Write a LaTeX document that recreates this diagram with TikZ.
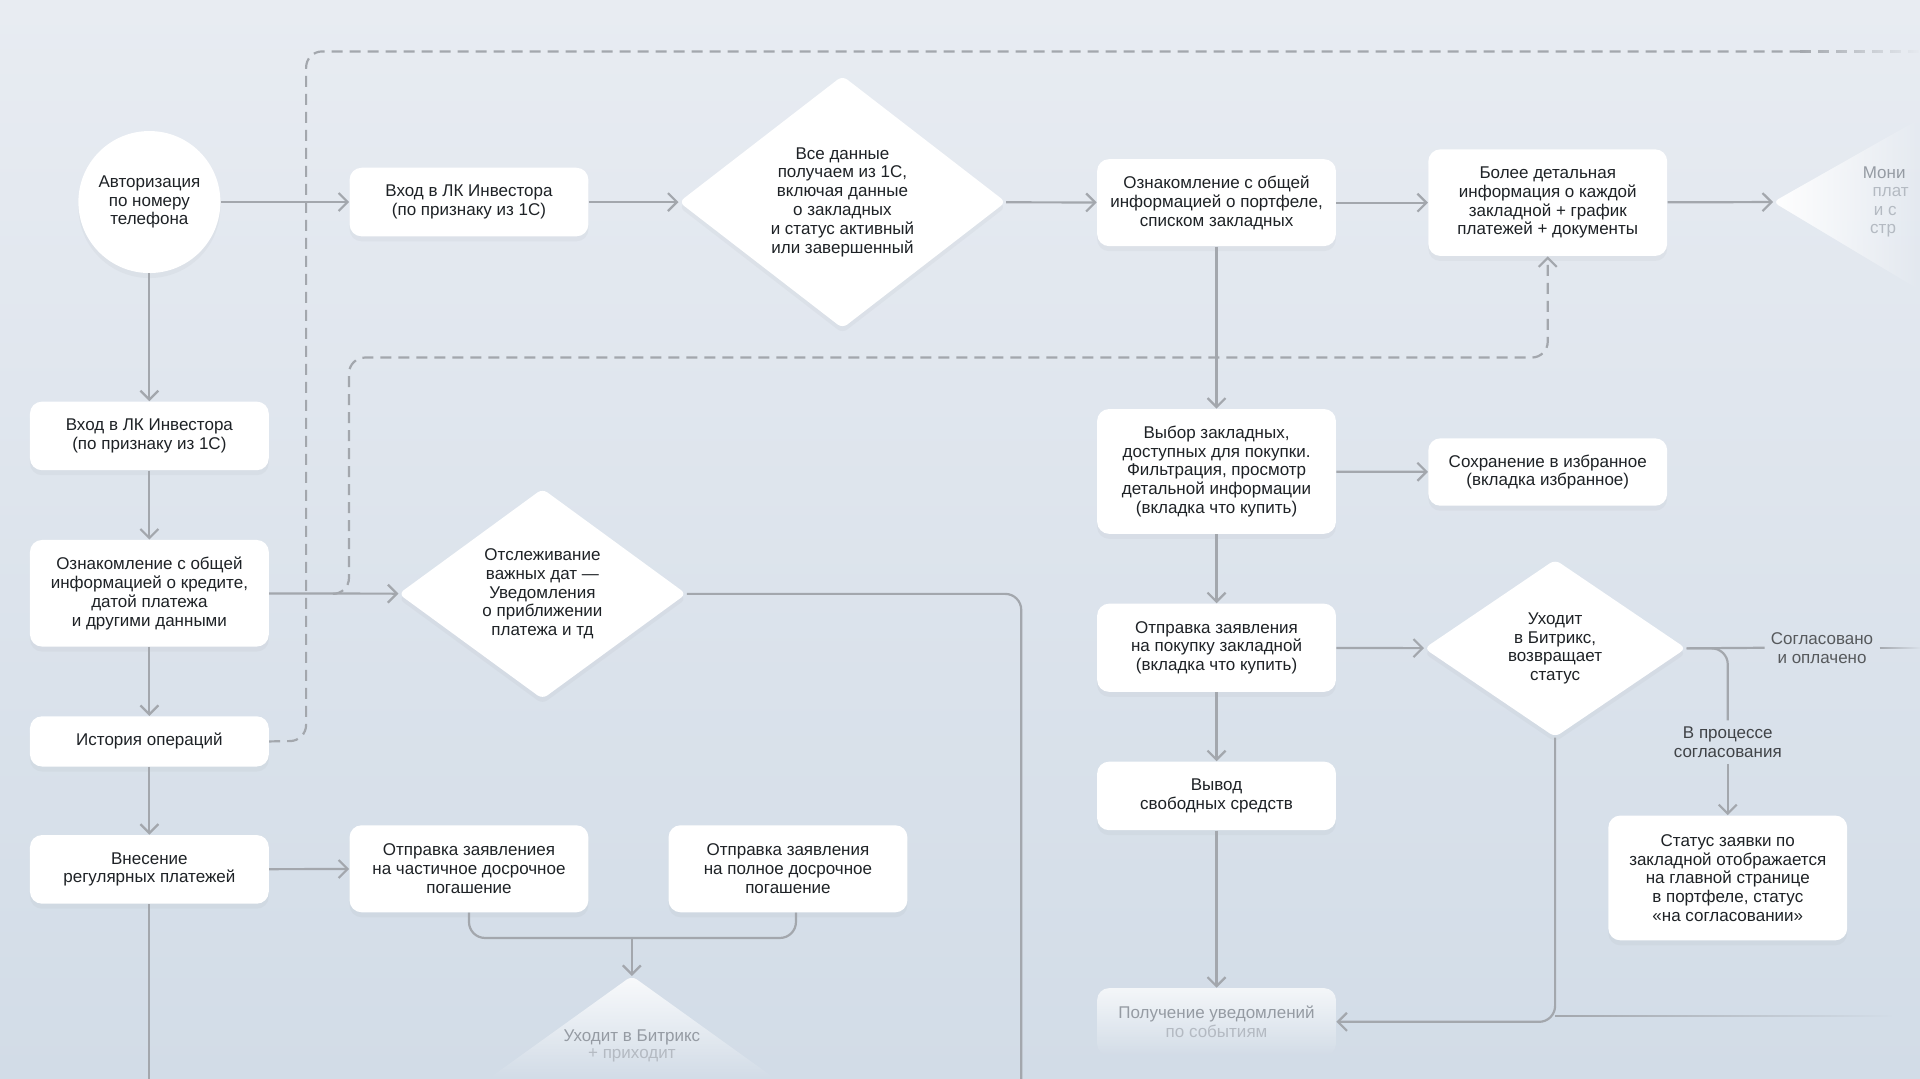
\documentclass[tikz,border=0pt]{standalone}
\usepackage{fontspec}
\setmainfont{Liberation Sans}
\usetikzlibrary{arrows.meta,shapes.geometric,shadows,fadings}
\definecolor{bgtop}{HTML}{E8ECF2}
\definecolor{bgbot}{HTML}{D2DCE7}
\definecolor{wire}{HTML}{A3A7AD}
\definecolor{ink}{HTML}{1E2226}
\definecolor{faint}{HTML}{959BA3}
\definecolor{fainter}{HTML}{B4BAC2}
\newcommand\fs{\fontsize{8.5}{9.4}\selectfont}
\tikzset{>={Straight Barb[length=4.5pt,width=9pt]}}
\tikzset{
  card/.style={rectangle, rounded corners=6pt, fill=white, text=ink, font=\fs, align=center,
    inner sep=0pt, minimum width=119.4pt,
    drop shadow={opacity=0.10, shadow xshift=0pt, shadow yshift=-2.5pt, fill=wire}},
  gate/.style={diamond, rounded corners=3pt, fill=white, text=ink, font=\fs, align=center,
    inner sep=0pt, drop shadow={opacity=0.10, shadow xshift=0pt, shadow yshift=-2.5pt, fill=wire}},
  bubble/.style={circle, fill=white, text=ink, font=\fs, align=center, inner sep=0pt,
    minimum size=71pt, drop shadow={opacity=0.10, shadow xshift=0pt, shadow yshift=-2.5pt, fill=wire}},
  tag/.style={text=ink!85, font=\fs, align=center, inner sep=3pt},
  link/.style={draw=wire, line width=1.1pt},
  hint/.style={draw=wire, line width=1.1pt, dash pattern=on 5.5pt off 3.5pt}
}

\begin{document}
\begin{tikzpicture}[x=0.6122pt,y=-0.6122pt]
  \useasboundingbox (0,0) rectangle (1568,881);
  \shade[top color=bgtop,bottom color=bgbot] (0,0) rectangle (1568,881);

  \node (auth) [bubble] at (122,165) {Авторизация\\по номеру\\телефона};
  \node (enterTop) [card, minimum height=34.3pt] at (383,165) {Вход в ЛК Инвестора\\(по признаку из 1С)};
  \node (allData) [gate, minimum width=163.5pt, minimum height=121.2pt] at (688,165)
    {Все данные\\получаем из 1С,\\включая данные\\о закладных\\и статус активный\\или завершенный};
  \node (portfolio) [card, minimum height=43.5pt] at (993.5,165.5)
    {Ознакомление с общей\\информацией о портфеле,\\списком закладных};
  \node (detail) [card, minimum height=53.3pt] at (1264,165.5)
    {Более детальная\\информация о каждой\\закладной + график\\платежей + документы};

  \fill[white, path fading=east, rounded corners=3pt] (1448,165) -- (1568,97) -- (1568,237) -- cycle;
  \coordinate (monitor) at (1448,165);
  \node[anchor=west, text=faint, font=\fs, inner sep=0pt] (mon1) at (1521,141) {Мони};
  \node[anchor=west, text=fainter, font=\fs, inner sep=0pt] (mon2) at (1529,157) {плат};
  \node[anchor=west, text=fainter, font=\fs, inner sep=0pt] (mon3) at (1530,172) {и с};
  \node[anchor=west, text=fainter, font=\fs, inner sep=0pt] (mon4) at (1527,188) {стр};

  \node (enterLeft) [card, minimum height=34.3pt] at (122,356) {Вход в ЛК Инвестора\\(по признаку из 1С)};
  \node (creditInfo) [card, minimum height=53.3pt] at (122,484.5)
    {Ознакомление с общей\\информацией о кредите,\\датой платежа\\и другими данными};
  \node (history) [card, minimum height=25.1pt] at (122,605.5) {История операций};
  \node (regular) [card, minimum height=34.3pt] at (122,710) {Внесение\\регулярных платежей};
  \node (trackDates) [gate, minimum width=143.9pt, minimum height=102.9pt] at (443,485)
    {Отслеживание\\важных дат —\\Уведомления\\о приближении\\платежа и тд};
  \node (partial) [card, minimum height=43.5pt] at (383,709.5)
    {Отправка заявлениея\\на частичное досрочное\\погашение};
  \node (full) [card, minimum height=43.5pt] at (643.5,709.5)
    {Отправка заявления\\на полное досрочное\\погашение};

  \fill[white, fill opacity=0.85, path fading=south, rounded corners=3pt] (516,797) -- (399,881) -- (633,881) -- cycle;
  \coordinate (bitrix) at (516,797);
  \node[text=faint, font=\fs, inner sep=0pt] (bit1) at (516,847) {Уходит в Битрикс};
  \node[text=fainter, font=\fs, inner sep=0pt] (bit2) at (516,862) {+ приходит};

  \node (choose) [card, minimum height=62.4pt] at (993.5,385)
    {Выбор закладных,\\доступных для покупки.\\Фильтрация, просмотр\\детальной информации\\(вкладка что купить)};
  \node (favorite) [card, minimum height=33.7pt] at (1264,385.5) {Сохранение в избранное\\(вкладка избранное)};
  \node (buy) [card, minimum height=44.1pt] at (993.5,529)
    {Отправка заявления\\на покупку закладной\\(вкладка что купить)};
  \node (status) [gate, minimum width=131pt, minimum height=88.8pt] at (1270,529.5)
    {Уходит\\в Битрикс,\\возвращает\\статус};
  \node (withdraw) [card, minimum height=34.3pt] at (993.5,650) {Вывод\\свободных средств};
  \node (notify) [rectangle, rounded corners=6pt, minimum width=119.4pt, minimum height=33.7pt, inner sep=0pt,
    preaction={fill=white, fill opacity=0.75, path fading=south}, font=\fs, align=center] at (993.5,834.5)
    {\textcolor{faint}{Получение уведомлений}\\\textcolor{fainter}{по событиям}};
  \node (statusBox) [card, minimum height=62.4pt] at (1411,717)
    {Статус заявки по\\закладной отображается\\на главной странице\\в портфеле, статус\\«на согласовании»};
  \node (agreed) [tag, text=ink!75] at (1488,529) {Согласовано\\и оплачено};
  \node (pending) [tag] at (1411,606) {В процессе\\согласования};

  \draw[link,->] (auth) -- (enterTop);
  \draw[link,->] (enterTop) -- (allData);
  \draw[link,->] (allData) -- (portfolio);
  \draw[link,->] (portfolio) -- (detail);
  \draw[link,->] (detail) -- (monitor);
  \draw[hint, rounded corners=8] (history.east) -- (250,605) -- (250,42) -- (1470,42);
  \draw[hint, path fading=east] (1470,36) (1470,42) -- (1568,42) (1568,48);

  \draw[link,->] (auth) -- (enterLeft);
  \draw[link,->] (enterLeft) -- (creditInfo);
  \draw[link,->] (creditInfo) -- (history);
  \draw[link,->] (history) -- (regular);
  \coordinate (exitL) at (122,881);
  \draw[link] (regular) -- (exitL);
  \draw[link,->] (creditInfo) -- (trackDates);
  \coordinate (exitM) at (834,881);
  \draw[link, rounded corners=8] (trackDates.east) -| (exitM);
  \coordinate (tap) at (272,485);
  \draw[hint,->, rounded corners=8] (tap) -| (285,292) -| (detail.south);
  \draw[link,->] (regular) -- (partial);
  \coordinate (fork) at (516,766);
  \draw[link, rounded corners=8] (partial.south) |- (fork) -| ([xshift=4pt]full.south);
  \draw[link,->] (fork) -- (bitrix);

  \draw[link,->] (portfolio) -- (choose);
  \draw[link,->] (choose) -- (favorite);
  \draw[link,->] (choose) -- (buy);
  \draw[link,->] (buy) -- (status);
  \draw[link,->] (buy) -- (withdraw);
  \draw[link,->] (withdraw) -- (notify);
  \draw[link] (status.east) -- (agreed.west);
  \draw[link, path fading=east] (agreed.east) ++(0,-6) (agreed.east) -- (1568,529) ++(0,6);
  \draw[link, rounded corners=8] (status.east) -| (pending.north);
  \draw[link,->] (pending) -- (statusBox);
  \draw[link,->, rounded corners=8] (status.south) |- (notify.east);
  \draw[link, path fading=east] (1270,824) (1270,830) -- (1545,830) (1545,836);
\end{tikzpicture}
\end{document}
